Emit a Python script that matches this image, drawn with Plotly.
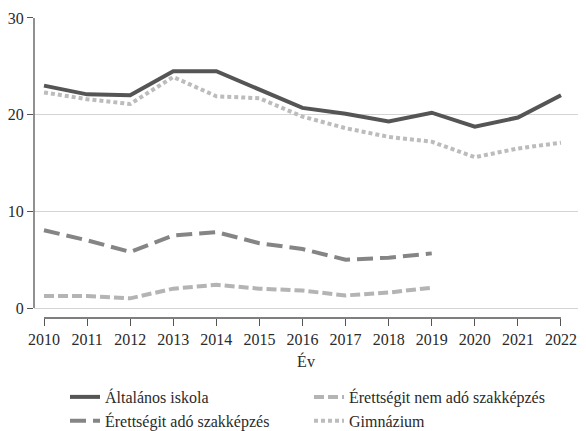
import plotly.graph_objects as go

years = list(range(2010, 2023))
altalanos = [23.0, 22.1, 22.0, 24.5, 24.5, 22.6, 20.7, 20.1, 19.3, 20.2, 18.75, 19.7, 22.0]
erettsegi_nem_ado = [1.25, 1.25, 1.0, 2.0, 2.4, 2.0, 1.8, 1.3, 1.6, 2.1]
erettsegi_ado = [8.05, 7.0, 5.8, 7.5, 7.85, 6.7, 6.1, 5.0, 5.2, 5.65]
gimnazium = [22.3, 21.6, 21.1, 23.9, 21.9, 21.7, 19.8, 18.6, 17.7, 17.2, 15.6, 16.5, 17.1]
y_ticks = [0, 10, 20, 30]

FONT = "Liberation Serif, Times New Roman, serif"
TXT = "#2a2a2a"

fig = go.Figure()
fig.add_trace(go.Scatter(x=years, y=altalanos, mode="lines", name="Általános iskola",
                         line=dict(color="#555555", width=4)))
fig.add_trace(go.Scatter(x=years[:len(erettsegi_nem_ado)], y=erettsegi_nem_ado, mode="lines",
                         name="Érettségit nem adó szakképzés",
                         line=dict(color="#b4b4b4", width=4, dash="10px,4px")))
fig.add_trace(go.Scatter(x=years[:len(erettsegi_ado)], y=erettsegi_ado, mode="lines",
                         name="Érettségit adó szakképzés",
                         line=dict(color="#858585", width=4, dash="16px,7px")))
fig.add_trace(go.Scatter(x=years, y=gimnazium, mode="lines", name="Gimnázium",
                         line=dict(color="#bcbcbc", width=4, dash="4px,3px")))

# page body has an 8px margin, so the figure is sized to the visible area
fig.update_layout(
    width=570, height=423,
    margin=dict(l=26, r=0, t=9, b=113, autoexpand=False),
    paper_bgcolor="white", plot_bgcolor="white",
    font=dict(family=FONT, size=16, color=TXT),
    showlegend=True,
    legend=dict(orientation="h", xref="container", yref="container",
                x=0.1, xanchor="left", y=0.1206, yanchor="top",
                entrywidth=199, entrywidthmode="pixels",
                font=dict(family=FONT, size=16, color=TXT),
                traceorder="normal", bgcolor="rgba(0,0,0,0)"),
    xaxis=dict(range=[2009.768, 2022.395], tickvals=years, ticks="outside", ticklen=7,
               tickcolor="#555555", tickwidth=1, showgrid=False, showline=False,
               zeroline=False, automargin=False,
               tickfont=dict(family=FONT, size=16, color=TXT),
               title=dict(text="Év", standoff=8,
                          font=dict(family=FONT, size=16, color=TXT))),
    yaxis=dict(range=[-1.034, 30.1], tickvals=y_ticks, ticks="outside", ticklen=6,
               tickcolor="#555555", tickwidth=1, showgrid=True, gridcolor="#d4d4d4",
               gridwidth=1, showline=False, zeroline=False, automargin=False,
               tickfont=dict(family=FONT, size=16, color=TXT)),
)

fig.add_shape(type="line", xref="paper", yref="y", x0=0, x1=0, y0=0, y1=30,
              line=dict(color="#555555", width=1.3))
fig.add_shape(type="line", xref="x", yref="paper", x0=2010, x1=2022, y0=0, y1=0,
              line=dict(color="#555555", width=1.3))

fig.write_html("out.html")
